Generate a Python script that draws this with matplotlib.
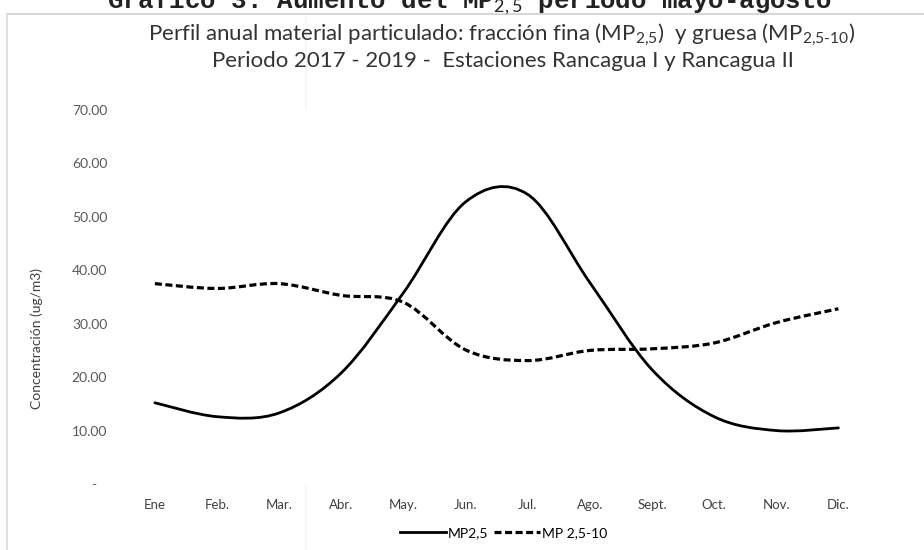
import matplotlib.pyplot as plt
from matplotlib.path import Path
from matplotlib.patches import PathPatch
from matplotlib.lines import Line2D

plt.rcParams['font.family'] = ['Lato', 'DejaVu Sans']
plt.rcParams['mathtext.fontset'] = 'custom'
plt.rcParams['mathtext.rm'] = 'Lato'
plt.rcParams['mathtext.it'] = 'Lato'

# datos (promedios mensuales 2017-2019)
meses = ["Ene", "Feb.", "Mar.", "Abr.", "May.", "Jun.", "Jul.", "Ago.",
         "Sept.", "Oct.", "Nov.", "Dic."]
mp25 = [15.2, 12.6, 13.3, 20.8, 35.8, 52.8, 54.2, 37.7, 21.4, 12.6, 10.0, 10.5]
mp25_10 = [37.5, 36.6, 37.5, 35.3, 34.0, 25.1, 23.1, 25.0, 25.3, 26.4, 30.2, 32.8]
yticks = [0, 10, 20, 30, 40, 50, 60, 70]
ytick_labels = ["-   ", "10.00", "20.00", "30.00", "40.00", "50.00", "60.00", "70.00"]


def curva_suave(ys):
    # linea suavizada tipo Excel: segmentos Bezier cubicos entre los puntos
    n = len(ys)
    pts = [(i, y) for i, y in enumerate(ys)]
    verts = [pts[0]]
    codes = [Path.MOVETO]
    for i in range(n - 1):
        p0 = pts[max(i - 1, 0)]
        p1 = pts[i]
        p2 = pts[i + 1]
        p3 = pts[min(i + 2, n - 1)]
        c1 = (p1[0] + (p2[0] - p0[0]) / 6, p1[1] + (p2[1] - p0[1]) / 6)
        c2 = (p2[0] - (p3[0] - p1[0]) / 6, p2[1] - (p3[1] - p1[1]) / 6)
        verts += [c1, c2, p2]
        codes += [Path.CURVE4] * 3
    return Path(verts, codes)


fig = plt.figure(figsize=(9.24, 5.5), dpi=100)
ax = fig.add_axes([0.134, 0.12, 0.807, 0.68])

ax.add_patch(PathPatch(curva_suave(mp25), fill=False, color='black', lw=2.0,
                       capstyle='round', clip_on=False))
ax.add_patch(PathPatch(curva_suave(mp25_10), fill=False, color='black', lw=2.3,
                       linestyle=(0, (2.2, 1.1)), clip_on=False))

ax.set_xlim(-0.5, len(meses) - 0.5)
ax.set_ylim(0, 70)
ax.set_xticks(range(len(meses)))
ax.set_xticklabels(meses, fontsize=9.5, color='#404040')
ax.set_yticks(yticks)
ax.set_yticklabels(ytick_labels, fontsize=10, color='#595959')
ax.tick_params(length=0)
ax.tick_params(axis='x', pad=11)
ax.tick_params(axis='y', pad=12)
for s in ax.spines.values():
    s.set_visible(False)

ax.set_ylabel("Concentración (ug/m3)", fontsize=10, color='#404040')
ax.yaxis.set_label_coords(-0.109, 0.39)

# titulos
fig.text(0.543, 1 - 41 / 550,
         "Perfil anual material particulado: fracción fina (MP$_{2{,}5}$)  y gruesa (MP$_{2{,}5\\text{-}10}$)",
         ha='center', va='baseline', fontsize=16, color='#333333')
fig.text(0.544, 1 - 67 / 550, "Periodo 2017 - 2019 -  Estaciones Rancagua I y Rancagua II",
         ha='center', va='baseline', fontsize=16, color='#333333')

# titulo del documento, cortado en el borde superior
fig.text(0.508, 0.985, "Gráfico 3: Aumento del MP$_{2,5}$ período mayo-agosto",
         ha='center', va='baseline', fontsize=18.5, fontweight='bold',
         family='Liberation Mono', color='#222222')

# borde del area del grafico y marcas del escaneo
fig.add_artist(Line2D([0.008, 1.0], [0.975, 0.975], color='#d0d0d0', lw=1.2))
fig.add_artist(Line2D([0.008, 0.008], [0.0, 0.975], color='#d9d9d9', lw=1.2))
fig.add_artist(Line2D([0.331, 0.331], [0.0, 0.975], color='#f8f8f8', lw=1.5, zorder=0))

handles = [Line2D([], [], color='black', lw=2.0),
           Line2D([], [], color='black', lw=2.3, linestyle=(0, (2.2, 1.1)))]
fig.legend(handles, ["MP2,5", "MP 2,5-10"], loc='center', bbox_to_anchor=(0.545, 0.031),
           ncol=2, frameon=False, fontsize=10, handlelength=3.3, handletextpad=0.15,
           columnspacing=0.4)

fig.savefig("out.png", dpi=100, facecolor='white')
